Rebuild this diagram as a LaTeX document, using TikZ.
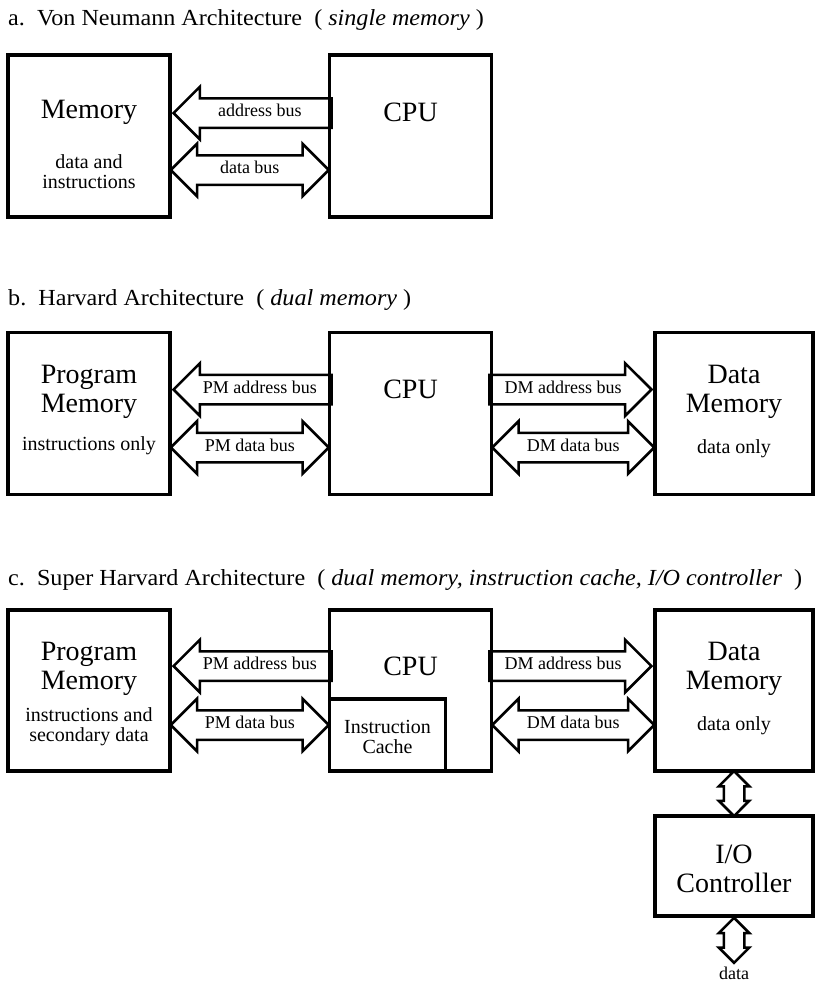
\documentclass[tikz,border=0pt]{standalone}
\usepackage{fontspec}
\setmainfont{Liberation Serif}
\newfontfamily\ttlfont[FakeStretch=1.05]{Liberation Serif}
\usetikzlibrary{shapes.arrows,positioning,calc}

\begin{document}
\begin{tikzpicture}[x=1pt,y=-1pt,node distance=112pt and 156pt,
box/.style={draw,line width=3.5pt,minimum width=162pt,minimum height=162pt,inner sep=0pt},
big/.style={font=\fontsize{28}{29}\selectfont,align=center,inner sep=0pt},
small/.style={font=\fontsize{20}{20}\selectfont,align=center,inner sep=0pt},
ttl/.style={font=\ttlfont\fontsize{23}{24}\selectfont,anchor=base west,inner sep=0pt},
bus/.style={single arrow,draw,line width=2.5pt,font=\fontsize{18}{18}\selectfont,text height=12pt,text depth=5pt,inner ysep=5pt,inner xsep=0pt,single arrow head extend=11.5pt,minimum height=158pt},
dbus/.style={double arrow,draw,line width=2.5pt,font=\fontsize{18}{18}\selectfont,text height=12pt,text depth=5pt,inner ysep=5pt,inner xsep=0pt,double arrow head extend=11.5pt,minimum height=158pt},
vbus/.style={double arrow,draw,line width=2.5pt,rotate=90,text height=0pt,text depth=0pt,inner ysep=9pt,inner xsep=0pt,double arrow head extend=5pt,minimum height=45pt}]
\useasboundingbox (0,0) rectangle (815,983);
% a. von Neumann
\node[ttl] (ta) at (8,25) {a.\ \ Von Neumann Architecture\ \ ( \textit{single memory} )};
\node[box] (mem) at (89,136) {};
\node[box,right=of mem] (cpu) {};
\node[big] (memt) at ([yshift=24pt]mem.center) {Memory};
\node[small] (mems) at ([yshift=-36pt]mem.center) {data and\\instructions};
\node[big] (cput) at ([yshift=24pt]cpu.center) {CPU};
\node[bus,shape border rotate=180,anchor=tip] (ab) at ($(mem.east)+(0,-23)$) {address bus};
\node[dbus] (db) at ($(mem.east)!.5!(cpu.west)+(0,34)$) {data bus};
% b. Harvard
\node[ttl] (tb) at (8,305) {b.\ \ Harvard Architecture\ \ ( \textit{dual memory} )};
\node[box,below=of mem] (pm) {};
\node[box,right=of pm] (hcpu) {};
\node[box,minimum width=158pt,right=160pt of hcpu] (dm) {};
\node[big] (pmt) at ([yshift=22pt]pm.center) {Program\\Memory};
\node[small] (pms) at ([yshift=-32pt]pm.center) {instructions only};
\node[big] (hcput) at ([yshift=24pt]hcpu.center) {CPU};
\node[big] (dmt) at ([yshift=22pt]dm.center) {Data\\Memory};
\node[small] (dms) at ([yshift=-35pt]dm.center) {data only};
\node[bus,shape border rotate=180,anchor=tip] (pab) at ($(pm.east)+(0,-24)$) {PM address bus};
\node[dbus] (pdb) at ($(pm.east)!.5!(hcpu.west)+(0,34)$) {PM data bus};
\node[bus,anchor=tip,minimum height=162pt] (dab) at ($(dm.west)+(0,-24)$) {DM address bus};
\node[dbus,minimum height=162pt] (ddb) at ($(hcpu.east)!.5!(dm.west)+(0,34)$) {DM data bus};
% c. Super Harvard
\node[ttl] (tc) at (8,585) {c.\ \ Super Harvard Architecture\ \ ( \textit{dual memory, instruction cache, I/O controller} \ )};
\node[box,minimum height=161pt,below=of pm] (spm) {};
\node[box,minimum height=161pt,right=of spm] (scpu) {};
\node[box,minimum height=161pt,minimum width=158pt,right=160pt of scpu] (sdm) {};
\node[box,minimum height=100pt,minimum width=158pt,below=41.5pt of sdm] (io) {};
\node[box,minimum width=116pt,minimum height=72pt,anchor=south west] (cache) at (scpu.south west) {};
\node[big] (spmt) at ([yshift=22pt]spm.center) {Program\\Memory};
\node[small] (spms) at ([yshift=-36pt]spm.center) {instructions and\\secondary data};
\node[big] (scput) at ([yshift=24.5pt]scpu.center) {CPU};
\node[small] (cachet) at ([yshift=-2pt]cache.center) {Instruction\\Cache};
\node[big] (sdmt) at ([yshift=22pt]sdm.center) {Data\\Memory};
\node[small] (sdms) at ([yshift=-35pt]sdm.center) {data only};
\node[big] (iot) at ([yshift=-3pt]io.center) {I/O\\Controller};
\node[bus,shape border rotate=180,anchor=tip] (spab) at ($(spm.east)+(0,-24.5)$) {PM address bus};
\node[dbus] (spdb) at ($(spm.east)!.5!(scpu.west)+(0,34.5)$) {PM data bus};
\node[bus,anchor=tip,minimum height=162pt] (sdab) at ($(sdm.west)+(0,-24.5)$) {DM address bus};
\node[dbus,minimum height=162pt] (sddb) at ($(scpu.east)!.5!(sdm.west)+(0,34.5)$) {DM data bus};
\node[vbus] (iob) at ($(sdm.south)!.5!(io.north)$) {};
\node[vbus] (datb) at ($(io.south)+(0,22.5)$) {};
\node[small,font=\fontsize{18}{18}\selectfont] (datat) at ($(io.south)+(0,56)$) {data};
\end{tikzpicture}
\end{document}
